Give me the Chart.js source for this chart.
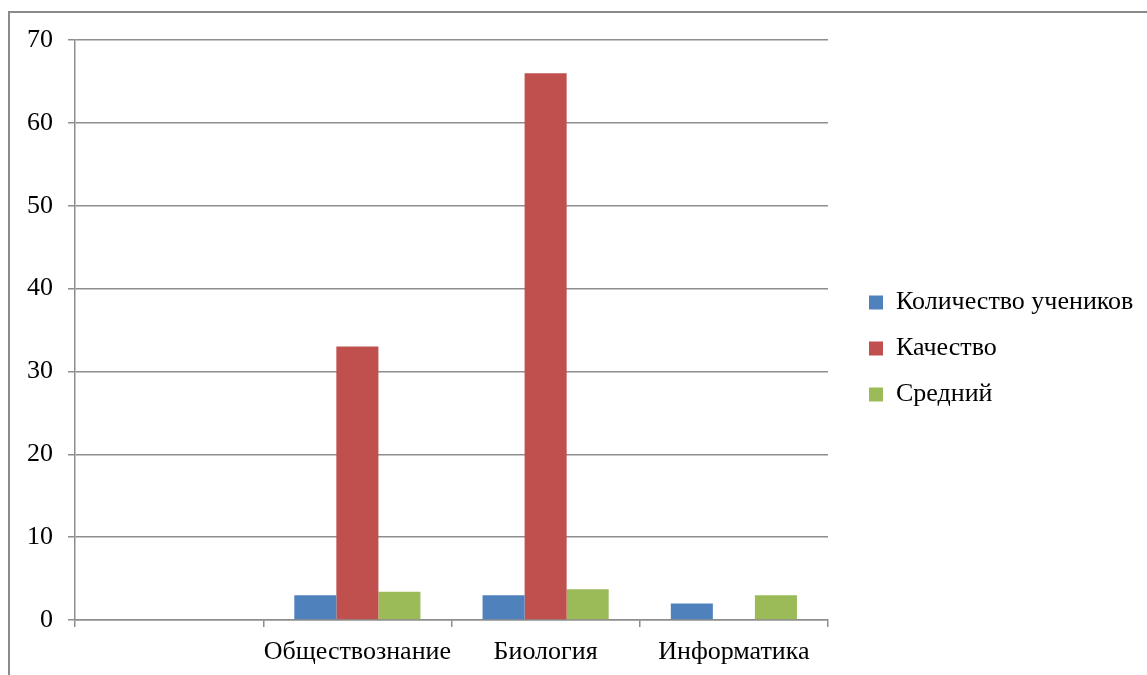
<!DOCTYPE html>
<html lang="ru">
<head>
    <meta charset="UTF-8">
    <title>Результаты</title>
    <script src="https://cdn.jsdelivr.net/npm/chart.js"></script>
    <style>
        body {
            margin: 0;
            background: #ffffff;
            overflow: hidden;
        }
        .frame {
            position: absolute;
            left: 8px;
            top: 11px;
            width: 1200px;
            height: 700px;
            border-left: 2px solid #8a8a8a;
            border-top: 2px solid #8a8a8a;
        }
        .chart-box {
            position: absolute;
            left: 0;
            top: 0;
            width: 1147px;
            height: 675px;
        }
    </style>
</head>
<body>
<div class="frame"></div>
<div class="chart-box">
    <canvas id="resultsChart"></canvas>
</div>

<script>
// Data
const subjects = ['', 'Обществознание', 'Биология', 'Информатика'];
const studentsCount = [null, 3, 3, 2];
const quality = [null, 33, 66, 0];
const average = [null, 3.4, 3.7, 3];
const yTicks = [0, 10, 20, 30, 40, 50, 60, 70];

const axisColor = '#8e8e8e';
const textFont = { family: "'Liberation Serif', 'Times New Roman', serif", size: 26 };

// nudge the legend away from the plot, let it use the full right side
const legendShift = {
    id: 'legendShift',
    afterLayout(chart) {
        const lg = chart.legend;
        lg.left += 21;
        lg.right = chart.width;
        lg.width = lg.right - lg.left;
        lg.top -= 9;
        lg.bottom -= 9;
    }
};

const ctx = document.getElementById('resultsChart').getContext('2d');
new Chart(ctx, {
    type: 'bar',
    data: {
        labels: subjects,
        datasets: [
            { label: 'Количество учеников', data: studentsCount, backgroundColor: '#4F81BD' },
            { label: 'Качество', data: quality, backgroundColor: '#C0504D' },
            { label: 'Средний', data: average, backgroundColor: '#9BBB59' }
        ]
    },
    options: {
        responsive: true,
        maintainAspectRatio: false,
        animation: false,
        datasets: {
            bar: { categoryPercentage: 0.67, barPercentage: 1 }
        },
        layout: {
            padding: { top: 40, right: 43, bottom: 0, left: 0 }
        },
        plugins: {
            tooltip: { enabled: false },
            legend: {
                position: 'right',
                labels: {
                    boxWidth: 14,
                    boxHeight: 14,
                    padding: 20,
                    color: '#000',
                    font: textFont
                }
            }
        },
        scales: {
            x: {
                offset: true,
                afterFit(scale) { scale.height = 55; },
                grid: {
                    offset: true,
                    drawOnChartArea: false,
                    drawTicks: true,
                    tickLength: 7,
                    color: axisColor,
                    lineWidth: 1.5
                },
                border: { color: axisColor, width: 1.5 },
                ticks: {
                    color: '#000',
                    font: textFont,
                    padding: 10,
                    maxRotation: 0,
                    autoSkip: false
                }
            },
            y: {
                min: 0,
                max: 70,
                afterFit(scale) { scale.width = 75; },
                afterBuildTicks(scale) {
                    scale.ticks = yTicks.map(v => ({ value: v }));
                },
                grid: {
                    drawTicks: true,
                    tickLength: 7,
                    color: axisColor,
                    lineWidth: 1.5
                },
                border: { color: axisColor, width: 1.5 },
                ticks: {
                    color: '#000',
                    font: textFont,
                    padding: 15
                }
            }
        }
    },
    plugins: [legendShift]
});
</script>
</body>
</html>
